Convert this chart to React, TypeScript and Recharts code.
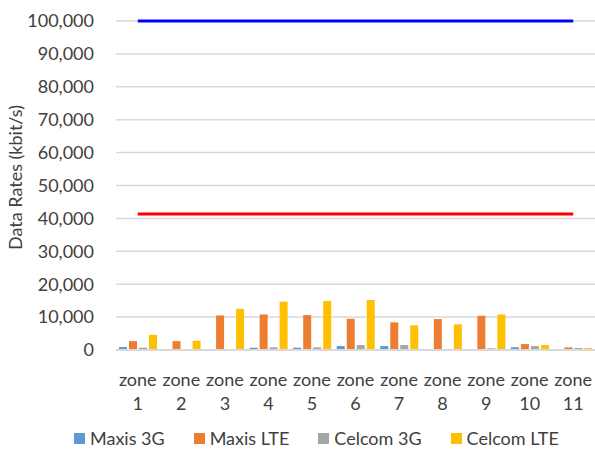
import React from "react";
import {
  ComposedChart,
  Bar,
  Line,
  XAxis,
  YAxis,
  CartesianGrid,
  Legend,
} from "recharts";

// Zones along the route
const zones = [
  "zone 1", "zone 2", "zone 3", "zone 4", "zone 5", "zone 6",
  "zone 7", "zone 8", "zone 9", "zone 10", "zone 11",
];

// Measured throughput per zone (kbit/s)
const maxis3G = [900, 0, 300, 700, 700, 1200, 1200, 300, 300, 800, 300];
const maxisLTE = [2700, 2700, 10500, 10800, 10600, 9500, 8400, 9400, 10400, 1800, 800];
const celcom3G = [700, 0, 300, 800, 800, 1500, 1500, 300, 500, 1200, 600];
const celcomLTE = [4600, 2800, 12500, 14700, 14900, 15200, 7500, 7800, 10800, 1500, 600];

// Reference rates drawn as horizontal lines (kbit/s)
const peakRate = [100000, 100000, 100000, 100000, 100000, 100000, 100000, 100000, 100000, 100000, 100000];
const targetRate = [41300, 41300, 41300, 41300, 41300, 41300, 41300, 41300, 41300, 41300, 41300];

const yTicks = [0, 10000, 20000, 30000, 40000, 50000, 60000, 70000, 80000, 90000, 100000];

const series = [
  { key: "maxis3G", name: "Maxis 3G", color: "#5B9BD5" },
  { key: "maxisLTE", name: "Maxis LTE", color: "#ED7D31" },
  { key: "celcom3G", name: "Celcom 3G", color: "#A5A5A5" },
  { key: "celcomLTE", name: "Celcom LTE", color: "#FFC000" },
];

const data = zones.map((zone, i) => ({
  zone,
  maxis3G: maxis3G[i],
  maxisLTE: maxisLTE[i],
  celcom3G: celcom3G[i],
  celcomLTE: celcomLTE[i],
  peakRate: peakRate[i],
  targetRate: targetRate[i],
}));

const TEXT = "#404040";
const FONT = "Lato, 'Open Sans', sans-serif";

const ZoneTick = (props: any) => {
  const { x, y, payload } = props;
  const [word, num] = String(payload.value).split(" ");
  return (
    <text x={x} y={y} textAnchor="middle" fill={TEXT} fontSize={18} fontFamily={FONT}>
      <tspan x={x} dy={28}>{word}</tspan>
      <tspan x={x} dy={24}>{num}</tspan>
    </text>
  );
};

const LegendContent = () => (
  <div
    style={{
      display: "flex",
      height: 24,
      alignItems: "center",
      paddingLeft: 74,
      fontFamily: FONT,
      fontSize: 18,
      color: TEXT,
      whiteSpace: "nowrap",
    }}
  >
    {series.map((s) => (
      <div key={s.key} style={{ display: "flex", alignItems: "center", marginRight: 29 }}>
        <span style={{ width: 11, height: 11, background: s.color, marginRight: 5 }} />
        <span>{s.name}</span>
      </div>
    ))}
  </div>
);

export default function App() {
  return (
    <div style={{ position: "absolute", left: 0, top: 0, width: 595, height: 451, background: "#fff" }}>
      <ComposedChart
        width={595}
        height={451}
        data={data}
        margin={{ top: 21, right: 0, left: 0, bottom: 1 }}
        barSize={8}
        barGap={2}
      >
        <CartesianGrid vertical={false} stroke="#D9D9D9" strokeWidth={1.5} />
        <XAxis
          dataKey="zone"
          interval={0}
          height={76}
          tickLine={false}
          axisLine={{ stroke: "#D9D9D9", strokeWidth: 2 }}
          tick={<ZoneTick />}
        />
        <YAxis
          width={116}
          domain={[0, 100000]}
          ticks={yTicks}
          axisLine={false}
          tickLine={false}
          tickSize={0}
          tickMargin={22}
          tick={{ fill: TEXT, fontSize: 18, fontFamily: FONT }}
          tickFormatter={(v: number) => v.toLocaleString("en-US")}
          label={{
            value: "Data Rates (kbit/s)",
            angle: -90,
            position: "center",
            dx: -42,
            dy: -8,
            fill: TEXT,
            fontSize: 18,
            fontFamily: FONT,
          }}
        />
        <Legend verticalAlign="bottom" content={<LegendContent />} />
        {series.map((s) => (
          <Bar key={s.key} dataKey={s.key} name={s.name} fill={s.color} isAnimationActive={false} />
        ))}
        <Line
          dataKey="peakRate"
          stroke="#0000FF"
          strokeWidth={3}
          dot={false}
          legendType="none"
          isAnimationActive={false}
        />
        <Line
          dataKey="targetRate"
          stroke="#FF0000"
          strokeWidth={3}
          dot={false}
          legendType="none"
          isAnimationActive={false}
        />
      </ComposedChart>
    </div>
  );
}
